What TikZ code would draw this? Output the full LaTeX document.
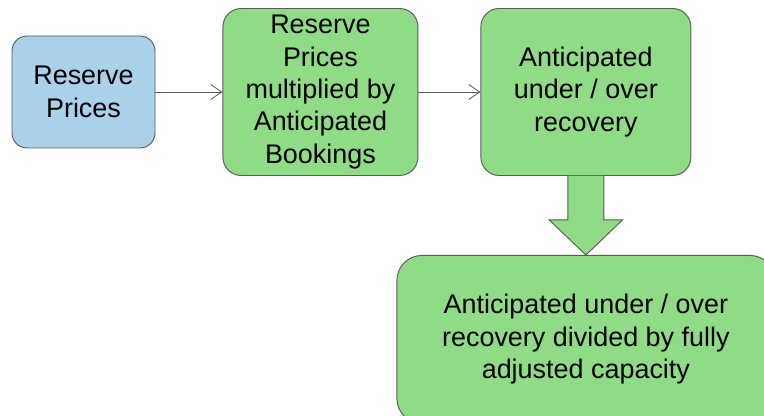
\documentclass[tikz,border=0pt]{standalone}
\usepackage{fontspec}
\setmainfont{Liberation Sans}
\usetikzlibrary{arrows,arrows.meta,calc,positioning}

\definecolor{boxblue}{HTML}{A9D2EA}
\definecolor{boxgreen}{HTML}{90DC86}
\definecolor{edgegray}{HTML}{595959}

\tikzset{
	stepbox/.style={draw=edgegray, line width=0.8pt, rectangle, rounded corners=0.55cm, align=center, inner sep=0pt, font=\fontsize{23}{27.7}\selectfont},
	link/.style={-{Straight Barb[length=0.33cm, width=0.45cm]}, draw=edgegray, line width=0.7pt}
}

\begin{document}
\begin{tikzpicture}
		\useasboundingbox (0,0) rectangle (22.92,12.48);
		\node[stepbox, fill=boxblue, minimum width=4.29cm, minimum height=3.36cm, rounded corners=0.45cm] (prices) at (2.505,9.72) {Reserve\\Prices};
		\node[stepbox, fill=boxgreen, minimum width=5.85cm, minimum height=5.01cm, right = 2.01cm of prices] (product) {Reserve\\Prices\\multiplied by\\Anticipated\\Bookings};
		\node[stepbox, fill=boxgreen, minimum width=6.3cm, minimum height=5.01cm, right = 1.86cm of product] (recovery) {Anticipated\\under / over\\recovery};
		\node[stepbox, fill=boxgreen, minimum width=11.34cm, minimum height=5.04cm, rounded corners=0.75cm, below = 2.37cm of recovery] (capacity) {Anticipated under / over\\recovery divided by fully\\adjusted capacity};

		\draw[link] (prices) -- (product);
		\draw[link] (product) -- (recovery);

		% block arrow down to the last box
		\draw[draw=edgegray, line width=0.8pt, fill=boxgreen, line join=miter]
			($(recovery.south)+(-0.54,0)$) -- ($(capacity.north)+(-0.54,1.05)$) -- ($(capacity.north)+(-1.1,1.05)$)
			-- (capacity.north)
			-- ($(capacity.north)+(1.1,1.05)$) -- ($(capacity.north)+(0.54,1.05)$) -- ($(recovery.south)+(0.54,0)$);
	\end{tikzpicture}
\end{document}
